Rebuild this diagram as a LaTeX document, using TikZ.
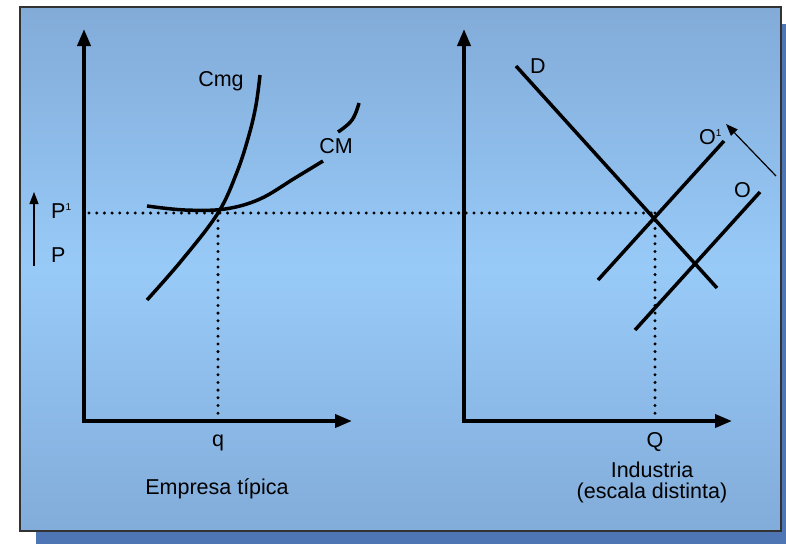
\documentclass[tikz,border=0pt]{standalone}
\usepackage{fontspec}
\setmainfont{Liberation Sans}
\usetikzlibrary{arrows.meta}
\definecolor{panelTop}{RGB}{130,171,216}
\definecolor{panelMid}{RGB}{152,202,248}
\definecolor{panelBot}{RGB}{130,172,218}
\definecolor{shadowBlue}{RGB}{78,118,180}
\definecolor{frameGray}{RGB}{50,50,50}
\tikzset{
  axis/.style={line width=3.8pt, -{Triangle[length=17pt,width=13pt]}},
  curve/.style={line width=3.5pt},
  guide/.style={line width=3.3pt, dash pattern=on 0pt off 7.7pt, line cap=round},
  thinarrow/.style={line width=1.2pt, -{Triangle[length=12pt,width=9pt]}},
  lbl/.style={inner sep=0pt, anchor=base, font=\fontsize{21.5}{25}\selectfont},
}
\newcommand{\supone}{\raisebox{8pt}{\fontsize{10}{10}\selectfont 1}}
\begin{document}
\begin{tikzpicture}[x=1pt,y=-1pt]
\useasboundingbox (0,0) rectangle (786,544);
% shadow and panel
\fill[shadowBlue] (36,24) rectangle (786,544);
\shade[top color=panelTop, bottom color=panelBot, middle color=panelMid] (20,7) rectangle (781,531);
\draw[frameGray, line width=1.3pt] (20,7) rectangle (781,531);
% coordinates
\coordinate (O1) at (84,421);
\coordinate (Y1) at (84,29);
\coordinate (X1) at (352,421);
\coordinate (O2) at (464,421);
\coordinate (Y2) at (464,29);
\coordinate (X2) at (732,421);
\coordinate (E1) at (218,213);
\coordinate (E2) at (655,213);
\coordinate (L1) at (89,213);
\coordinate (q1) at (218,421);
\coordinate (q2) at (655,421);
% guides
\draw[guide] (L1) -- (E2);
\draw[guide] (E1) -- (q1);
\draw[guide] (E2) -- (q2);
% axes
\draw[axis] (O1) -- (Y1);
\draw[axis] (O1) -- (X1);
\draw[axis] (O2) -- (Y2);
\draw[axis] (O2) -- (X2);
\fill (O1) ++(-1.9,-1.9) rectangle ++(3.8,3.8);
\fill (O2) ++(-1.9,-1.9) rectangle ++(3.8,3.8);
% left panel curves
\draw[curve] plot[smooth, tension=0.6] coordinates {(147,300) (182,260) (218,213) (237,172) (249,135) (256,105) (260,75)};
\draw[curve] plot[smooth, tension=0.6] coordinates {(147,206) (185,210) (225,209) (260,199) (295,178) (323,161)};
\draw[curve] plot[smooth, tension=0.7] coordinates {(338,132) (352,120) (359,103)};
% right panel lines
\coordinate (D1) at (516,66);
\coordinate (D2) at (717,288);
\coordinate (S1a) at (598,280);
\coordinate (S1b) at (724,141);
\coordinate (S0a) at (635,330);
\coordinate (S0b) at (760,192);
\draw[curve] (D1) -- (D2);
\draw[curve] (S1a) -- (S1b);
\draw[curve] (S0a) -- (S0b);
% shift arrows
\coordinate (sa1) at (776,176);
\coordinate (sa2) at (726,124);
\draw[thinarrow] (sa1) -- (sa2);
\coordinate (pa1) at (34,266);
\coordinate (pa2) at (34,192);
\draw[thinarrow] (pa1) -- (pa2);
% labels
\node[lbl] (lCmg) at (221,86) {Cmg};
\node[lbl] (lCM) at (336,153) {CM};
\node[lbl, anchor=base west] (lP1) at (51,218) {P\supone};
\node[lbl, anchor=base west] (lP) at (51,262) {P};
\node[lbl] (lq) at (218,446) {q};
\node[lbl] (lQ) at (655,447) {Q};
\node[lbl] (lEmp) at (217,494) {Empresa típica};
\node[lbl] (lInd) at (652,477) {Industria};
\node[lbl] (lEsc) at (652,498) {(escala distinta)};
\node[lbl] (lD) at (538,73) {D};
\node[lbl, anchor=base west] (lO1) at (699,144) {O\supone};
\node[lbl, anchor=base west] (lO) at (734,197) {O};
\end{tikzpicture}
\end{document}
